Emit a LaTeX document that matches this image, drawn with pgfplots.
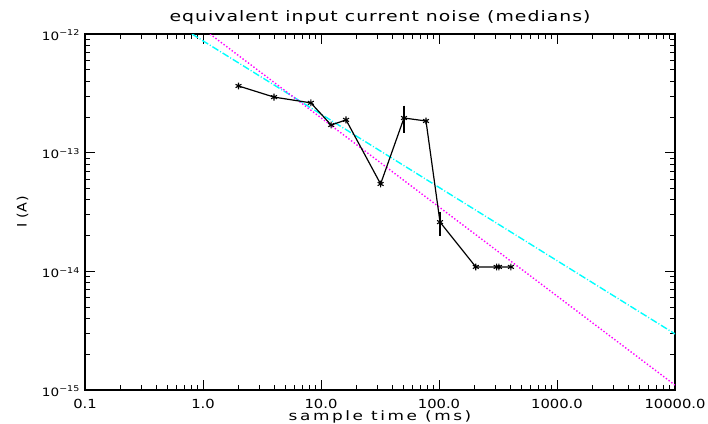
\documentclass[border=0pt]{standalone}
\usepackage{fontspec}
\setmainfont{DejaVu Sans}
\newfontfamily\titlefont[FakeStretch=1.3, LetterSpace=7]{DejaVu Sans}
\newfontfamily\xlabfont[FakeStretch=1.3, LetterSpace=20]{DejaVu Sans}
\newfontfamily\ylabfont[FakeStretch=1.1, LetterSpace=4]{DejaVu Sans}
\newfontfamily\tickfont[FakeStretch=1.18]{DejaVu Sans}
\usepackage{pgfplots}
\pgfplotsset{compat=1.18}
\definecolor{idlcyan}{RGB}{0,255,255}
\definecolor{idlmag}{RGB}{255,0,255}
\begin{document}
\begin{tikzpicture}
\begin{axis}[
  scale only axis, width=590pt, height=356pt,
  at={(0,0)}, anchor=south west,
  xmode=log, ymode=log,
  xmin=0.1, xmax=10000, ymin=1e-15, ymax=1e-12,
  xtick={0.1,1,10,100,1000,10000},
  xticklabels={0.1,1.0,10.0,100.0,1000.0,10000.0},
  ytick={1e-15,1e-14,1e-13,1e-12},
  yticklabels={10\textsuperscript{−15},10\textsuperscript{−14},10\textsuperscript{−13},10\textsuperscript{−12}},
  tick align=inside,
  xtick pos=both, ytick pos=both,
  major tick length=10pt, minor tick length=5pt,
  every tick/.style={black, line width=0.9pt},
  axis line style={line width=1.2pt},
  xticklabel style={font=\tickfont\fontsize{12.5}{14}\selectfont, anchor=base, yshift=-18pt},
  yticklabel style={font=\tickfont\fontsize{11.5}{13}\selectfont, anchor=base east, inner sep=0pt, xshift=-5pt, yshift=-6pt},
  title={\titlefont equivalent input current noise (medians)},
  title style={font=\fontsize{14.5}{16}\selectfont, at={(axis description cs:0.5,1.0169)}, anchor=base},
  xlabel={\xlabfont sample time (ms)},
  ylabel={\ylabfont I (A)},
  xlabel style={font=\fontsize{13}{15}\selectfont, at={(axis description cs:0.5,-0.0843)}, anchor=base},
  ylabel style={font=\fontsize{13}{15}\selectfont, at={(axis description cs:-0.106,0.5)}, anchor=center},
  clip=true,
]
\addplot[idlcyan, line width=1.4pt, dash pattern=on 7pt off 2pt on 1pt off 2pt] coordinates {(0.807,1e-12) (10000,2.97e-15)};
\addplot[idlmag, line width=1.4pt, dotted] coordinates {(1.146,1e-12) (10000,1.1e-15)};
\addplot[black, line width=1.2pt, mark=asterisk, mark size=3.4pt, mark options={line width=1.1pt}] coordinates {
(2,3.65e-13) (4,2.94e-13) (8.2,2.63e-13) (12.2,1.71e-13) (16.3,1.89e-13) (32,5.45e-14)
(50.5,1.96e-13) (77.6,1.85e-13) (102,2.6e-14) (205,1.09e-14) (308,1.09e-14) (322,1.09e-14) (407,1.09e-14)};
\addplot[black, line width=1.1pt] coordinates {(50.5,2.49e-13) (50.5,1.46e-13)};
\addplot[black, line width=1.1pt] coordinates {(102,3.18e-14) (102,1.99e-14)};
\end{axis}
\pgfresetboundingbox
\path[use as bounding box] (-85pt,-33pt) rectangle (623pt,390pt);
\end{tikzpicture}
\end{document}
